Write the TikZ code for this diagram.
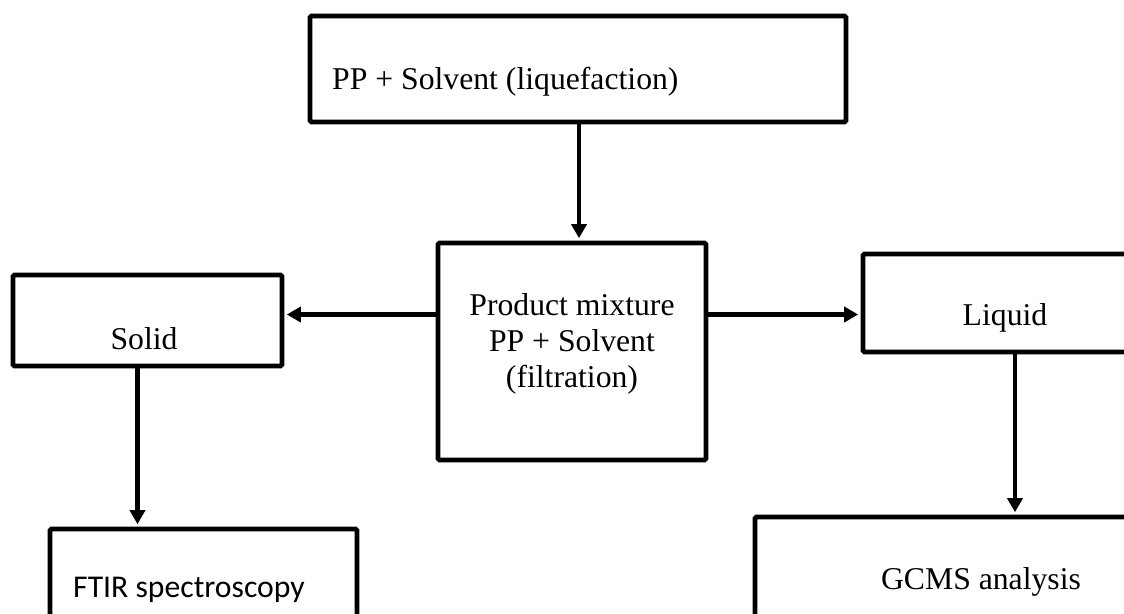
\documentclass[tikz,border=0pt]{standalone}
\usepackage{fontspec}
\setmainfont{Liberation Serif}
\newfontfamily\calfont{Carlito}
\usetikzlibrary{arrows.meta,calc}

\begin{document}
\begin{tikzpicture}[x=1pt,y=-1pt,font=\fontsize{31.7}{36}\selectfont,
  box/.style={draw,line width=4.8pt,rounded corners=1.5pt,inner sep=0pt},
  lbl/.style={inner sep=0pt},
  arr/.style={line width=4.8pt,shorten >=2.4pt,-{Triangle[length=14pt,width=15pt]}}]

\useasboundingbox (0,0) rectangle (1124,613);
\clip (0,0) rectangle (1124,613);

% boxes
\node[box,minimum width=536pt,minimum height=106pt] (feed) at (578,69) {};
\node[lbl,anchor=west] (feedtxt) at (332,82) {PP + Solvent (liquefaction)};

\node[box,minimum width=268pt,minimum height=217pt] (mix) at (572,351.5) {};
\node[lbl,align=center] (mixtxt) at (572,344) {Product mixture\\PP + Solvent\\(filtration)};

\node[box,minimum width=269pt,minimum height=91pt] (solid) at (147.5,320.5) {};
\node[lbl] (solidtxt) at (144,339) {Solid};

\node[box,minimum width=284pt,minimum height=98pt] (liquid) at (1005,303) {};
\node[lbl] (liquidtxt) at (1005,318) {Liquid};

\node[box,minimum width=307pt,minimum height=130pt] (ftir) at (203.5,594) {};
\node[lbl,font=\calfont\fontsize{31.7}{36}\selectfont] (ftirtxt) at (189,590) {FTIR spectroscopy};

\node[box,minimum width=452pt,minimum height=140pt] (gcms) at (981,587) {};
\node[lbl] (gcmstxt) at (981,582) {GCMS analysis};

% arrows
\draw[arr] ([xshift=1pt]feed.south) -- ([xshift=1pt]feed.south |- mix.north);
\draw[arr] ([yshift=37pt]mix.west) -- ([yshift=37pt]mix.west -| solid.east);
\draw[arr] ([yshift=37pt]mix.east) -- ([yshift=37pt]mix.east -| liquid.west);
\draw[arr] ([xshift=-10pt]solid.south) -- ([xshift=-10pt]solid.south |- ftir.north);
\draw[arr] ([xshift=10pt]liquid.south) -- ([xshift=10pt]liquid.south |- gcms.north);

\end{tikzpicture}
\end{document}
